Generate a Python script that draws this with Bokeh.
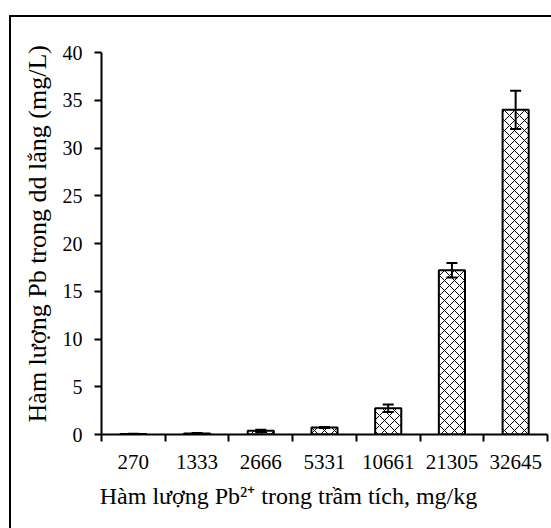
from bokeh.plotting import figure
from bokeh.models import Range1d, FixedTicker, CustomJSTickFormatter, ColumnDataSource, Whisker, TeeHead
from bokeh.embed import file_html
from bokeh.resources import INLINE

categories = ["270", "1333", "2666", "5331", "10661", "21305", "32645"]
values = [0.05, 0.1, 0.38, 0.74, 2.75, 17.2, 34.0]
errors = [0.02, 0.06, 0.12, 0.05, 0.4, 0.75, 2.0]
y_ticks = [0, 5, 10, 15, 20, 25, 30, 35, 40]
x_title = "Hàm lượng Pb²⁺ trong trầm tích, mg/kg"
y_title = "Hàm lượng Pb trong dd lắng (mg/L)"

xs = [i + 0.5 for i in range(len(categories))]
src = ColumnDataSource(dict(
    x=xs, top=values,
    upper=[v + e for v, e in zip(values, errors)],
    lower=[v - e for v, e in zip(values, errors)],
))

FONT = "Liberation Serif"
NBSP = "\u00a0"

p = figure(width=542, height=513, output_backend="svg", toolbar_location=None,
           x_range=Range1d(0, len(categories)), y_range=Range1d(0, 40),
           min_border_left=92, min_border_right=4, min_border_top=37, min_border_bottom=94)
p.margin = (15, 0, 0, 9)
p.styles = {"background": "linear-gradient(#000, #000) left top / 2px 100% no-repeat, "
                          "linear-gradient(#000, #000) left top / 100% 2px no-repeat, #fff"}
p.outline_line_color = None
p.background_fill_color = None
p.border_fill_color = None
p.xgrid.visible = False
p.ygrid.visible = False

p.vbar(x="x", top="top", width=0.41, source=src, fill_color="white",
       line_color="black", line_width=2, hatch_pattern="x", hatch_scale=10,
       hatch_color="black", hatch_weight=1)

w = Whisker(source=src, base="x", upper="upper", lower="lower", line_color="black",
            line_width=2, level="overlay",
            upper_head=TeeHead(size=11, line_width=2, line_color="black"),
            lower_head=TeeHead(size=11, line_width=2, line_color="black"))
p.add_layout(w)

xa = p.xaxis[0]
xa.ticker = FixedTicker(ticks=xs, minor_ticks=list(range(len(categories) + 1)))
xa.formatter = CustomJSTickFormatter(args=dict(labels=categories),
                                     code="return labels[Math.floor(tick)]")
xa.major_tick_out = 0
xa.major_tick_in = 0
xa.minor_tick_out = 7
xa.minor_tick_in = 0
xa.minor_tick_line_width = 2
xa.axis_line_width = 2
xa.major_label_text_font = FONT
xa.major_label_text_font_size = "21px"
xa.major_label_text_color = "black"
xa.major_label_standoff = 13
xa.axis_label = x_title + NBSP * 12
xa.axis_label_text_font = FONT
xa.axis_label_text_font_size = "24px"
xa.axis_label_text_font_style = "normal"
xa.axis_label_text_color = "black"
xa.axis_label_standoff = 11

ya = p.yaxis[0]
ya.ticker = FixedTicker(ticks=y_ticks)
ya.major_tick_out = 7
ya.major_tick_in = 0
ya.major_tick_line_width = 2
ya.minor_tick_out = 0
ya.minor_tick_in = 0
ya.axis_line_width = 2
ya.major_label_text_font = FONT
ya.major_label_text_font_size = "20px"
ya.major_label_text_color = "black"
ya.major_label_standoff = 12
ya.axis_label = NBSP * 3 + y_title
ya.axis_label_text_font = FONT
ya.axis_label_text_font_size = "26px"
ya.axis_label_text_font_style = "normal"
ya.axis_label_text_color = "black"
ya.axis_label_standoff = 8

open("out.html", "w").write(file_html(p, INLINE))
